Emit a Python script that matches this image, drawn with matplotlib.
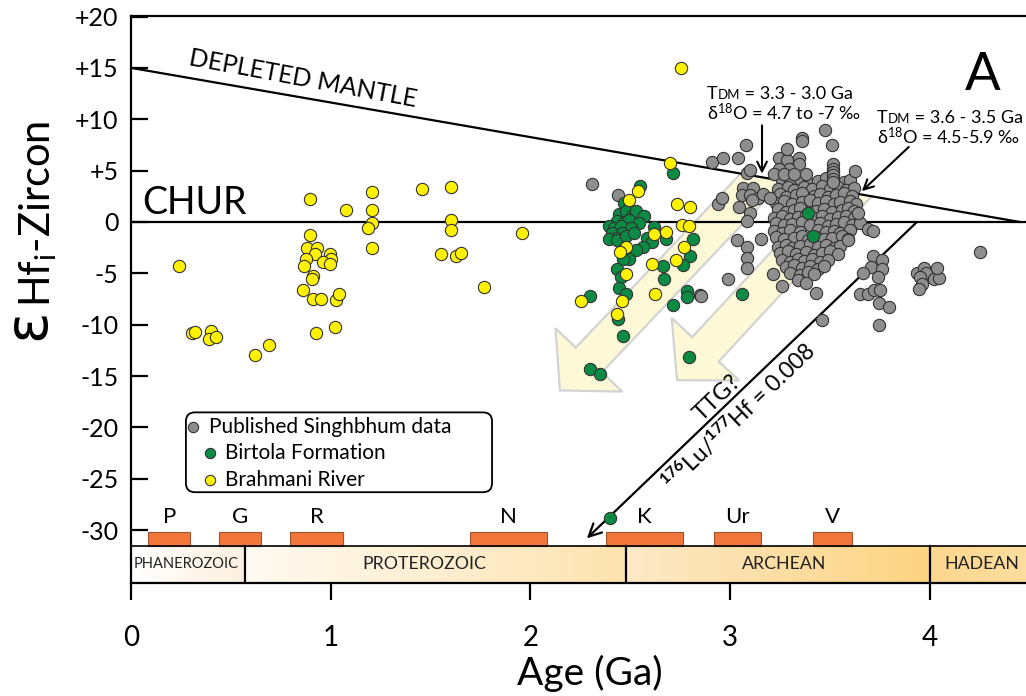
import numpy as np
import matplotlib
matplotlib.use("Agg")
import matplotlib.pyplot as plt
import matplotlib.transforms as mtransforms
from matplotlib.patches import Rectangle, Polygon, FancyBboxPatch
from matplotlib.colors import LinearSegmentedColormap

plt.rcParams['font.family'] = ['Lato', 'DejaVu Sans']
plt.rcParams['mathtext.fontset'] = 'custom'
plt.rcParams['mathtext.rm'] = 'Lato'
plt.rcParams['mathtext.it'] = 'Lato:italic'
plt.rcParams['mathtext.bf'] = 'Lato:bold'

# ---- data (age in Ga, initial eHf) ----
brahmani = [
    (0.24, -4.3), (0.895, 2.2), (1.075, 1.2), (0.895, -1.3), (0.88, -2.5), (0.93, -2.5),
    (0.92, -3.1), (0.875, -3.6), (0.865, -4.3), (0.995, -3.1), (1.0, -3.6), (0.96, -3.9),
    (0.995, -4.1), (0.91, -5.3), (0.905, -5.6), (0.86, -6.6), (0.91, -7.5), (0.95, -7.5),
    (1.025, -7.6), (1.04, -7.0), (1.02, -10.2), (0.925, -10.8), (0.305, -10.8), (0.32, -10.7),
    (0.40, -10.6), (0.39, -11.4), (0.425, -11.2), (0.62, -13.0), (0.69, -12.0),
    (1.205, 2.9), (1.205, 1.2), (1.205, -0.1), (1.185, -0.6), (1.205, -2.5), (1.455, 3.2),
    (1.60, 3.4), (1.60, 0.2), (1.60, -0.8), (1.55, -3.1), (1.63, -3.3), (1.655, -3.0),
    (1.77, -6.3), (1.96, -1.1),
    (2.755, 15.0), (2.70, 5.7), (2.495, 2.1), (2.54, 3.0), (2.735, 1.7), (2.80, 1.5),
    (2.76, -0.3), (2.795, -0.4), (2.62, -1.2), (2.68, -1.0), (2.48, -2.4), (2.45, -2.9),
    (2.77, -2.4), (2.73, -3.7), (2.61, -4.1), (2.48, -5.1), (2.625, -7.0), (2.255, -7.7),
    (2.46, -7.7), (2.435, -9.0),
]
birtola = [
    (2.55, 3.5), (2.715, 4.8), (2.47, 1.8), (2.445, 0.8), (2.48, 1.1), (2.51, 0.6), (2.53, 1.1),
    (2.57, 0.6), (2.435, 0.1), (2.47, -0.1), (2.495, 0.2), (2.545, -0.1), (2.395, -0.4),
    (2.42, -0.6), (2.455, -0.4), (2.505, -0.6), (2.41, -1.1), (2.46, -1.1), (2.43, -1.6),
    (2.395, -1.7), (2.435, -1.8), (2.48, -1.4), (2.52, -1.1), (2.62, -0.5), (2.585, -1.6),
    (2.61, -2.0), (2.565, -2.4), (2.53, -2.7), (2.465, -2.7), (2.495, -3.6), (2.465, -3.6),
    (2.68, -1.7), (2.815, -1.7), (2.80, -3.3), (2.765, -4.2), (2.665, -4.3), (2.67, -5.6),
    (2.435, -4.6), (2.455, -5.4), (2.445, -6.4), (2.48, -7.0), (2.30, -7.2), (2.785, -6.7),
    (2.785, -7.3), (2.715, -8.1), (2.44, -9.4), (2.465, -11.1), (2.795, -13.1), (2.30, -14.3),
    (2.35, -14.8), (3.06, -7.0), (3.39, 0.9), (3.415, -1.4), (2.40, -28.8),
]
singhbhum_scattered = [
    (2.31, 3.7), (2.44, 2.6), (2.91, 5.8), (2.965, 6.2), (3.04, 6.2), (3.08, 7.5), (3.36, 8.2),
    (3.36, 7.9), (3.475, 9.0), (3.51, 7.5), (3.625, 5.0), (3.64, 0.9), (3.69, -0.7), (3.715, -0.9),
    (2.94, 1.7), (2.96, 2.3), (3.045, 1.5), (3.10, 0.9), (3.085, 0.1), (3.035, -1.8), (3.085, -2.4),
    (3.085, -3.5), (3.085, -4.5), (3.155, -1.7), (2.99, -5.6), (3.215, -5.1), (3.26, -6.2),
    (3.43, -6.9), (3.46, -9.5), (2.85, -7.1), (2.855, -7.2), (4.25, -2.9),
    (3.065, 3.3), (3.115, 3.3), (3.06, 2.6), (3.10, 2.6), (3.14, 2.3), (3.11, 2.1), (3.165, 2.7),
    (3.20, 2.3), (3.085, 4.8), (3.10, 5.1),
    (3.59, -1.8), (3.715, -3.3), (3.76, -3.7), (3.705, -4.4), (3.76, -4.6), (3.665, -5.0),
    (3.74, -5.4), (3.65, -7.0), (3.69, -7.0), (3.72, -6.6), (3.75, -6.6), (3.745, -7.9),
    (3.795, -8.3), (3.745, -10.0),
    (3.935, -5.0), (3.97, -4.5), (3.98, -5.0), (3.95, -5.4), (3.96, -6.0), (3.945, -6.5),
    (4.02, -5.6), (4.045, -5.5), (4.035, -4.5),
    (3.515, 5.6), (3.515, 5.2), (3.515, 4.9), (3.515, 4.6), (3.515, 4.2), (3.515, 3.9),
    (3.245, 6.2), (3.285, 6.0), (3.345, 6.2), (3.345, 5.6), (3.295, 5.2), (3.245, 5.2),
    (3.22, 4.7), (3.27, 4.7), (3.32, 4.7), (3.38, 4.7), (3.285, 7.1),
]
singhbhum_cluster = [
    (3.26, 4.1), (3.30, 3.9), (3.35, 4.2), (3.39, 3.8), (3.44, 4.0), (3.48, 4.3), (3.57, 3.9), (3.60, 4.1),
    (3.24, 3.2), (3.29, 3.4), (3.32, 3.1), (3.37, 3.4), (3.41, 3.2), (3.46, 3.5), (3.50, 3.2), (3.54, 3.4),
    (3.58, 3.1), (3.62, 3.3),
    (3.25, 2.7), (3.28, 2.4), (3.33, 2.6), (3.36, 2.8), (3.42, 2.5), (3.45, 2.7), (3.49, 2.4), (3.53, 2.6),
    (3.57, 2.8), (3.61, 2.5),
    (3.23, 1.8), (3.27, 2.0), (3.31, 1.7), (3.36, 1.9), (3.40, 2.1), (3.44, 1.8), (3.48, 2.0), (3.52, 1.7),
    (3.55, 1.9), (3.60, 2.0), (3.63, 1.7),
    (3.24, 1.3), (3.28, 1.0), (3.32, 1.2), (3.35, 1.4), (3.43, 1.1), (3.47, 1.3), (3.51, 1.0), (3.56, 1.2),
    (3.59, 1.4), (3.62, 1.1),
    (3.22, 0.4), (3.26, 0.6), (3.30, 0.3), (3.34, 0.5), (3.38, 0.7), (3.42, 0.4), (3.46, 0.6), (3.50, 0.3),
    (3.54, 0.5), (3.58, 0.6), (3.62, 0.4),
    (3.23, -0.1), (3.27, -0.3), (3.31, -0.2), (3.36, 0.0), (3.40, -0.3), (3.45, -0.1), (3.49, -0.4),
    (3.53, -0.2), (3.57, 0.0), (3.61, -0.3), (3.65, -0.1),
    (3.22, -0.9), (3.26, -1.1), (3.30, -0.8), (3.35, -1.0), (3.44, -0.8), (3.48, -1.0), (3.52, -0.9),
    (3.55, -1.1), (3.60, -0.8),
    (3.23, -1.5), (3.27, -1.7), (3.32, -1.6), (3.36, -1.4), (3.39, -1.8), (3.43, -1.5), (3.47, -1.7),
    (3.51, -1.6), (3.56, -1.4), (3.59, -1.7),
    (3.24, -2.4), (3.28, -2.2), (3.31, -2.5), (3.35, -2.3), (3.40, -2.1), (3.44, -2.4), (3.48, -2.2),
    (3.52, -2.5), (3.55, -2.3),
    (3.25, -3.0), (3.29, -2.8), (3.33, -3.1), (3.38, -2.9), (3.42, -3.2), (3.46, -3.0), (3.50, -2.8),
    (3.54, -3.1),
    (3.26, -3.7), (3.30, -3.9), (3.34, -3.6), (3.37, -3.8), (3.41, -3.6), (3.45, -3.9), (3.49, -3.7),
    (3.28, -4.4), (3.32, -4.2), (3.36, -4.5), (3.40, -4.3), (3.44, -4.6), (3.47, -4.3),
    (3.30, -5.0), (3.35, -5.2), (3.39, -4.9), (3.42, -5.1), (3.34, -5.7), (3.38, -5.9),
]

eon_names = ['PHANEROZOIC', 'PROTEROZOIC', 'ARCHEAN', 'HADEAN']
eon_start = [0.0, 0.57, 2.48, 4.0]
eon_end = [0.57, 2.48, 4.0, 4.6]
eon_label_x = [0.275, 1.47, 3.27, 4.26]
eon_colors = [('#ffffff', '#fdf0df'), ('#fffaf1', '#fde3b0'),
              ('#fde9c7', '#fcd482'), ('#fcd78e', '#fddfa2')]

sc_names = ['P', 'G', 'R', 'N', 'K', 'Ur', 'V']
sc_start = [0.085, 0.442, 0.794, 1.699, 2.38, 2.919, 3.417]
sc_end = [0.297, 0.649, 1.064, 2.085, 2.766, 3.153, 3.609]

yticks = [20, 15, 10, 5, 0, -5, -10, -15, -20, -25, -30]
ytick_labels = ['+20', '+15', '+10', '+5', '0', '-5', '-10', '-15', '-20', '-25', '-30']
xticks = [0, 1, 2, 3, 4]

XMAX, YMIN, YMAX = 4.482, -35.15, 20.05
BAND_TOP = -31.55


def split(pairs):
    a = np.array(pairs)
    return a[:, 0], a[:, 1]


fig = plt.figure(figsize=(10.26, 6.96), dpi=100)
ax = fig.add_axes([131 / 1026, 1 - 583 / 696, 1 - 131 / 1026, (583 - 16) / 696])
ax.set_xlim(0, XMAX)
ax.set_ylim(YMIN, YMAX)
renderer = fig.canvas.get_renderer()

# geological time band
for name, x0, x1, lx, (c0, c1) in zip(eon_names, eon_start, eon_end, eon_label_x, eon_colors):
    cmap = LinearSegmentedColormap.from_list(name, [c0, c1])
    ax.imshow(np.linspace(0, 1, 64)[None, :], extent=[x0, x1, YMIN, BAND_TOP],
              aspect='auto', cmap=cmap, interpolation='bilinear', zorder=1)
    if x0 > 0:
        ax.plot([x0, x0], [YMIN, BAND_TOP], color='black', lw=1.6, zorder=3)
    ax.text(lx, -33.3, name, ha='center', va='center',
            fontsize=10.5 if name == 'PHANEROZOIC' else 12.8, color='#222222', zorder=4)
ax.plot([0, XMAX], [BAND_TOP, BAND_TOP], color='black', lw=1.2, zorder=3)

for name, x0, x1 in zip(sc_names, sc_start, sc_end):
    ax.add_patch(Rectangle((x0, BAND_TOP), x1 - x0, 1.35, facecolor='#f2763a',
                           edgecolor='#9c5533', lw=0.8, zorder=2))
    ax.text((x0 + x1) / 2, -28.7, name, ha='center', va='center', fontsize=16, zorder=4)

# pale broad arrows (clipped under the depleted mantle line)
clip = Polygon([(0, 15), (4.45, 0), (4.6, 0), (4.6, -40), (0, -40)], closed=True,
               transform=ax.transData)


def big_arrow(tail, tip, shaft=36, head_w=92, head_l=42):
    t = ax.transData
    p0, p1 = t.transform(tail), t.transform(tip)
    d = p1 - p0
    u = d / np.hypot(*d)
    n = np.array([-u[1], u[0]])
    base = p1 - u * head_l
    pts = [p0 + n * shaft / 2, base + n * shaft / 2, base + n * head_w / 2, p1,
           base - n * head_w / 2, base - n * shaft / 2, p0 - n * shaft / 2]
    poly = Polygon(t.inverted().transform(pts), closed=True, facecolor='#fdf8d6',
                   edgecolor='#d3d3d3', lw=1.6, zorder=1.5)
    ax.add_patch(poly)
    poly.set_clip_path(clip)


big_arrow((3.255, 6.3), (2.148, -16.4))
big_arrow((3.71, 5.1), (2.734, -15.4))

# reference lines
ax.plot([0, 4.45], [15, 0], color='black', lw=1.6, zorder=3)
ax.plot([0, XMAX], [0, 0], color='black', lw=1.6, zorder=3)
ax.annotate('', xy=(2.283, -30.8), xytext=(3.936, 0),
            arrowprops=dict(arrowstyle='->,head_length=0.9,head_width=0.45', lw=1.6,
                            color='black', shrinkA=0, shrinkB=0), zorder=3)

# data
edge = '#333333'
pt_size = 78
gx1, gy1 = split(singhbhum_scattered)
gx2, gy2 = split(singhbhum_cluster)
ax.scatter(np.concatenate([gx2, gx1]), np.concatenate([gy2, gy1]), s=pt_size, color='#8e8e8e',
           edgecolors=edge, linewidths=0.8, zorder=4)
bx, by = split(birtola)
ax.scatter(bx, by, s=pt_size, color='#0b8a43', edgecolors=edge, linewidths=0.8, zorder=5)
yx, yy = split(brahmani)
ax.scatter(yx, yy, s=pt_size, color='#fff200', edgecolors=edge, linewidths=0.8, zorder=6)

# labels on the plot
ax.text(0.861, 13.9, 'DEPLETED MANTLE', rotation=-10.5, ha='center', va='center',
        fontsize=18, rotation_mode='anchor', zorder=7)
ax.text(0.055, 0.75, 'CHUR', ha='left', va='baseline', fontsize=27, zorder=7)
ax.text(4.266, 14.3, 'A', ha='center', va='center', fontsize=38, zorder=7)


def text_chain(x, y, parts):
    # pieces of different size sharing one baseline
    dx = 0.0
    for s, size in parts:
        tr = mtransforms.offset_copy(ax.transData, fig=fig, x=dx, y=0, units='dots')
        t = ax.text(x, y, s, fontsize=size, ha='left', va='baseline', transform=tr, zorder=7)
        dx += t.get_window_extent(renderer).width


ann_size = 13
small_size = 9.5
text_chain(2.884, 12.0, [('T', ann_size), ('DM', small_size), (' = 3.3 - 3.0 Ga', ann_size)])
ax.text(2.884, 9.9, 'δ$^{\\mathregular{18}}$O = 4.7 to -7 ‰', fontsize=ann_size, va='baseline', zorder=7)
text_chain(3.736, 9.6, [('T', ann_size), ('DM', small_size), (' = 3.6 - 3.5 Ga', ann_size)])
ax.text(3.736, 7.6, 'δ$^{\\mathregular{18}}$O = 4.5-5.9 ‰', fontsize=ann_size, va='baseline', zorder=7)
arrow_kw = dict(arrowstyle='->,head_length=0.7,head_width=0.35', lw=1.5, color='black',
                shrinkA=0, shrinkB=0)
ax.annotate('', xy=(3.16, 4.7), xytext=(3.16, 9.4), arrowprops=arrow_kw, zorder=7)
ax.annotate('', xy=(3.66, 3.0), xytext=(3.895, 7.3), arrowprops=arrow_kw, zorder=7)

ax.text(2.935, -17.1, 'TTG?', rotation=43.8, rotation_mode='anchor', ha='center',
        va='center', fontsize=17, zorder=7)
ax.text(3.045, -19.0, r'$^{\mathbf{176}}$Lu/$^{\mathbf{177}}$Hf = 0.008', rotation=43.8,
        rotation_mode='anchor', ha='center', va='center', fontsize=16.5, zorder=7)

# legend box
ax.add_patch(FancyBboxPatch((0.275, -26.31), 1.808 - 0.275, 26.31 - 18.54,
                            boxstyle='round,pad=0,rounding_size=0.045',
                            mutation_aspect=199.7 / 10.3, facecolor='white',
                            edgecolor='black', lw=1.3, zorder=8))
legend_names = ['Published Singhbhum data', 'Birtola Formation', 'Brahmani River']
legend_colors = ['#8e8e8e', '#0b8a43', '#fff200']
legend_mx = [0.31, 0.396, 0.396]
legend_tx = [0.39, 0.47, 0.47]
legend_y = [-20.0, -22.5, -25.15]
for name, c, mx, tx, ly in zip(legend_names, legend_colors, legend_mx, legend_tx, legend_y):
    ax.scatter([mx], [ly], s=55, color=c, edgecolors=edge, linewidths=0.8, zorder=9)
    ax.text(tx, ly, name, ha='left', va='center', fontsize=15, zorder=9)

# axes styling
for side in ['top', 'left', 'bottom']:
    ax.spines[side].set_linewidth(1.6)
ax.spines['right'].set_visible(False)
ax.set_yticks(yticks)
ax.set_yticklabels(ytick_labels)
ax.set_xticks(xticks)
ax.tick_params(axis='y', direction='in', length=12, width=1.6, labelsize=18, pad=9)
ax.tick_params(axis='x', direction='out', length=12.5, width=1.6, labelsize=20, pad=18)
ax.set_xlim(0, XMAX)
ax.set_ylim(YMIN, YMAX)

fig.text(590 / 1026, 1 - 685 / 696, 'Age (Ga)', ha='center', va='baseline', fontsize=28)
fig.text(28 / 1026, 1 - 324 / 696, 'ε', rotation=90, ha='center', va='center', fontsize=42,
         family=['DejaVu Sans'])
fig.text(38 / 1026, 1 - 214 / 696, r'Hf$_{\mathregular{i}}$-Zircon', rotation=90,
         ha='center', va='center', fontsize=30)

fig.savefig('out.png', dpi=100)
